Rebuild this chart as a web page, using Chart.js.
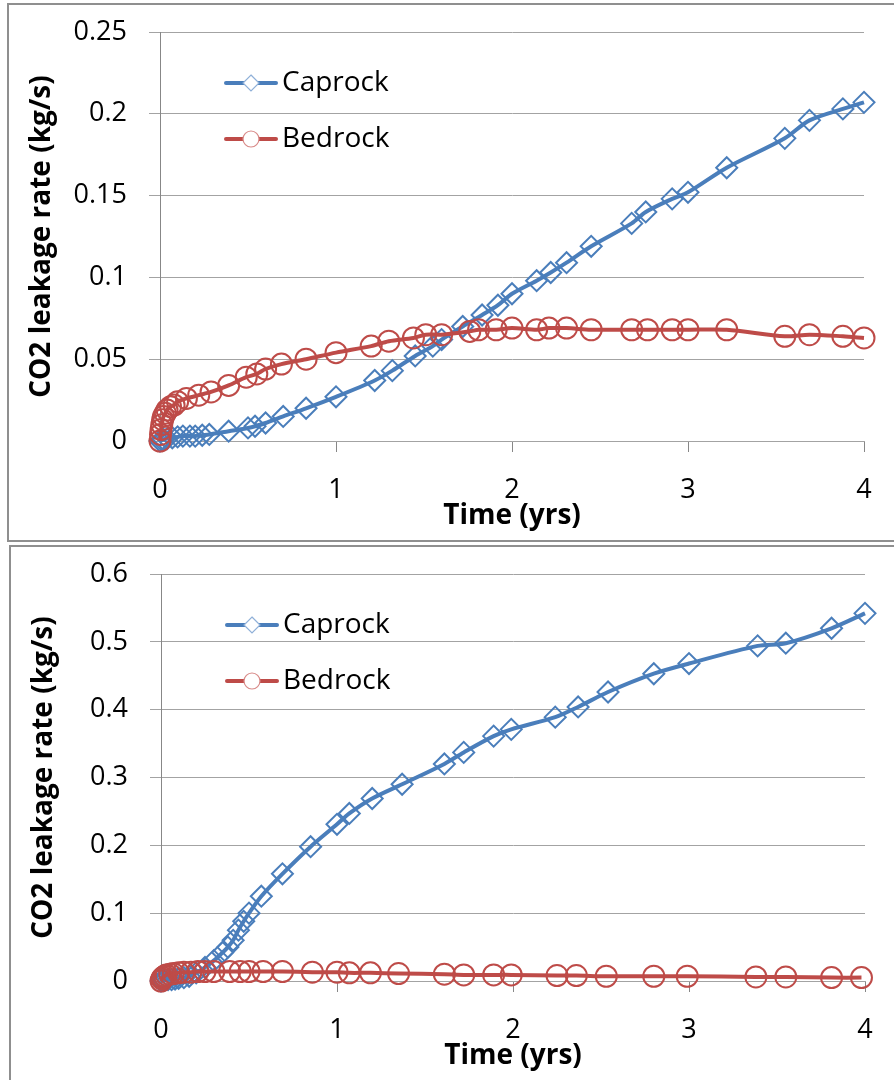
<!DOCTYPE html>
<html>
<head>
<meta charset="utf-8">
<script src="https://cdn.jsdelivr.net/npm/chart.js@4.4.0/dist/chart.umd.min.js"></script>
<style>
  body { margin: 0; background: #fff; overflow: hidden; width: 894px; height: 1080px; }
  .box { position: absolute; border: 2px solid #8f8f8f; background: #fff; }
  #box1 { left: 7px; top: 3px; width: 900px; height: 535px; }
  #box2 { left: 9px; top: 545px; width: 900px; height: 560px; }
  canvas { display: block; }
</style>
</head>
<body>
<div class="box" id="box1"><canvas id="chartTop" width="884" height="535"></canvas></div>
<div class="box" id="box2"><canvas id="chartBottom" width="882" height="540"></canvas></div>
<script>
// top panel
var capTopT = [0, 0.01, 0.02, 0.04, 0.07, 0.1, 0.13, 0.17, 0.2, 0.24, 0.28, 0.39, 0.5, 0.54, 0.6, 0.7, 0.83, 1.0, 1.22, 1.32, 1.45, 1.55, 1.6, 1.72, 1.83, 1.92, 2.0, 2.14, 2.22, 2.31, 2.45, 2.68, 2.76, 2.91, 3.0, 3.22, 3.55, 3.69, 3.88, 4.0];
var capTopV = [0, 0.0005, 0.001, 0.0015, 0.002, 0.0025, 0.003, 0.003, 0.003, 0.0035, 0.004, 0.006, 0.008, 0.009, 0.011, 0.015, 0.02, 0.027, 0.037, 0.043, 0.052, 0.058, 0.062, 0.07, 0.077, 0.083, 0.09, 0.098, 0.103, 0.109, 0.119, 0.133, 0.14, 0.148, 0.152, 0.167, 0.185, 0.196, 0.203, 0.207];
var bedTopT = [0, 0.003, 0.006, 0.01, 0.015, 0.02, 0.03, 0.04, 0.06, 0.08, 0.1, 0.15, 0.22, 0.29, 0.39, 0.49, 0.55, 0.6, 0.69, 0.83, 1.0, 1.2, 1.3, 1.44, 1.51, 1.6, 1.76, 1.81, 1.91, 2.0, 2.14, 2.21, 2.31, 2.45, 2.68, 2.77, 2.91, 3.0, 3.22, 3.55, 3.69, 3.88, 4.0];
var bedTopV = [0, 0.004, 0.007, 0.01, 0.013, 0.015, 0.017, 0.019, 0.021, 0.022, 0.024, 0.026, 0.028, 0.03, 0.034, 0.039, 0.041, 0.044, 0.047, 0.05, 0.054, 0.058, 0.061, 0.063, 0.065, 0.065, 0.067, 0.068, 0.068, 0.069, 0.068, 0.069, 0.069, 0.068, 0.068, 0.068, 0.068, 0.068, 0.068, 0.064, 0.065, 0.064, 0.063];
var yTicksTop = ['0', '0.05', '0.1', '0.15', '0.2', '0.25'];

// bottom panel
var capBotT = [0, 0.01, 0.02, 0.04, 0.06, 0.08, 0.1, 0.13, 0.16, 0.2, 0.25, 0.3, 0.35, 0.38, 0.41, 0.44, 0.47, 0.5, 0.57, 0.69, 0.85, 1.0, 1.07, 1.2, 1.37, 1.61, 1.72, 1.89, 1.99, 2.24, 2.37, 2.54, 2.8, 3.0, 3.39, 3.55, 3.81, 4.0];
var capBotV = [0, 0.001, 0.001, 0.002, 0.002, 0.003, 0.004, 0.005, 0.007, 0.012, 0.02, 0.03, 0.042, 0.05, 0.06, 0.075, 0.088, 0.1, 0.125, 0.158, 0.198, 0.231, 0.247, 0.269, 0.29, 0.32, 0.337, 0.361, 0.371, 0.389, 0.404, 0.426, 0.453, 0.468, 0.494, 0.498, 0.52, 0.542];
var bedBotT = [0, 0.005, 0.01, 0.02, 0.03, 0.05, 0.07, 0.1, 0.13, 0.17, 0.21, 0.25, 0.3, 0.39, 0.45, 0.5, 0.58, 0.69, 0.86, 1.0, 1.07, 1.19, 1.35, 1.61, 1.72, 1.89, 1.99, 2.25, 2.36, 2.53, 2.8, 2.99, 3.38, 3.55, 3.81, 3.98];
var bedBotV = [0, 0.003, 0.005, 0.007, 0.009, 0.01, 0.011, 0.012, 0.013, 0.013, 0.014, 0.014, 0.014, 0.014, 0.014, 0.014, 0.014, 0.014, 0.013, 0.013, 0.012, 0.012, 0.011, 0.01, 0.009, 0.009, 0.009, 0.008, 0.008, 0.007, 0.007, 0.007, 0.006, 0.006, 0.005, 0.005];
var yTicksBot = ['0', '0.1', '0.2', '0.3', '0.4', '0.5', '0.6'];

var xTicks = ['0', '1', '2', '3', '4'];
var seriesNames = ['Caprock', 'Bedrock'];

var blue = '#4a7ebb';
var red = '#be4b48';
var gridGray = '#a3a3a3';
var axisGray = '#878787';

function pts(t, v) {
  return t.map(function (x, i) { return { x: x, y: v[i] }; });
}

// legend drawn inside the plot, like the Excel one
var insideLegend = {
  id: 'insideLegend',
  afterDraw: function (chart) {
    var ctx = chart.ctx;
    var a = chart.chartArea;
    var rows = [
      { name: seriesNames[0], color: blue, style: 'diamond', dy: 51 },
      { name: seriesNames[1], color: red, style: 'circle', dy: 107 }
    ];
    ctx.save();
    rows.forEach(function (r) {
      var y = a.top + r.dy;
      var x0 = a.left + 66;
      ctx.strokeStyle = r.color;
      ctx.lineWidth = 4;
      ctx.lineCap = 'round';
      ctx.beginPath();
      ctx.moveTo(x0, y);
      ctx.lineTo(x0 + 50, y);
      ctx.stroke();
      var cx = x0 + 25;
      ctx.lineWidth = 1.2;
      ctx.fillStyle = '#fff';
      ctx.strokeStyle = r.style === 'diamond' ? '#8fb0d8' : '#d88a88';
      ctx.beginPath();
      if (r.style === 'diamond') {
        ctx.moveTo(cx, y - 8); ctx.lineTo(cx + 8, y); ctx.lineTo(cx, y + 8); ctx.lineTo(cx - 8, y); ctx.closePath();
      } else {
        ctx.arc(cx, y, 8, 0, Math.PI * 2);
      }
      ctx.fill();
      ctx.stroke();
      ctx.fillStyle = '#000';
      ctx.font = '28px "Open Sans"';
      ctx.textAlign = 'left';
      ctx.textBaseline = 'middle';
      ctx.fillText(r.name, x0 + 56, y);
    });
    ctx.restore();
  }
};

function makeChart(id, capData, bedData, yMax, yStep, yLabels, pad) {
  var ctx = document.getElementById(id).getContext('2d');
  return new Chart(ctx, {
    type: 'scatter',
    data: {
      datasets: [{
        label: seriesNames[0],
        data: capData,
        showLine: true,
        borderColor: blue,
        borderWidth: 4,
        tension: 0.3,
        pointStyle: 'rectRot',
        pointRadius: 10.5,
        pointBorderWidth: 2,
        pointBorderColor: blue,
        pointBackgroundColor: 'rgba(0,0,0,0)',
        clip: false,
        order: 1
      }, {
        label: seriesNames[1],
        data: bedData,
        showLine: true,
        borderColor: red,
        borderWidth: 4,
        tension: 0.3,
        pointStyle: 'circle',
        pointRadius: 10.5,
        pointBorderWidth: 2,
        pointBorderColor: red,
        pointBackgroundColor: 'rgba(0,0,0,0)',
        clip: false,
        order: 0
      }]
    },
    options: {
      responsive: false,
      animation: false,
      layout: { padding: pad },
      plugins: { legend: { display: false }, tooltip: { enabled: false } },
      scales: {
        x: {
          type: 'linear', min: 0, max: 4,
          afterFit: function (s) { s.height = 98; s.paddingLeft = 0; s.paddingRight = 0; },
          ticks: {
            stepSize: 1, padding: 22, color: '#000',
            font: { family: 'Open Sans', size: 27 },
            callback: function (v, i) { return xTicks[i]; }
          },
          grid: { drawOnChartArea: false, color: axisGray, tickLength: 11 },
          border: { color: gridGray, width: 1 },
          title: {
            display: true, text: 'Time (yrs)', color: '#000',
            font: { family: 'Open Sans', size: 28, weight: 'bold' },
            padding: { top: 0, bottom: 6 }
          }
        },
        y: {
          min: 0, max: yMax,
          afterFit: function (s) { s.width = pad.yw; s.paddingTop = 0; s.paddingBottom = 0; },
          ticks: {
            stepSize: yStep, padding: 22, color: '#000',
            font: { family: 'Open Sans', size: 27 },
            callback: function (v, i) { return yLabels[i]; }
          },
          grid: { color: gridGray, tickLength: 11 },
          border: { color: axisGray, width: 1 },
          title: {
            display: true, text: 'CO2 leakage rate (kg/s)', color: '#000',
            font: { family: 'Open Sans', size: 28, weight: 'bold' },
            padding: { top: 16, bottom: 0 }
          }
        }
      }
    },
    plugins: [insideLegend]
  });
}

makeChart('chartTop', pts(capTopT, capTopV), pts(bedTopT, bedTopV), 0.25, 0.05, yTicksTop,
  { left: 0, top: 27, right: 29, bottom: 1, yw: 151 });
makeChart('chartBottom', pts(capBotT, capBotV), pts(bedBotT, bedBotV), 0.6, 0.1, yTicksBot,
  { left: 0, top: 27, right: 28, bottom: 8, yw: 150 });
</script>
</body>
</html>
